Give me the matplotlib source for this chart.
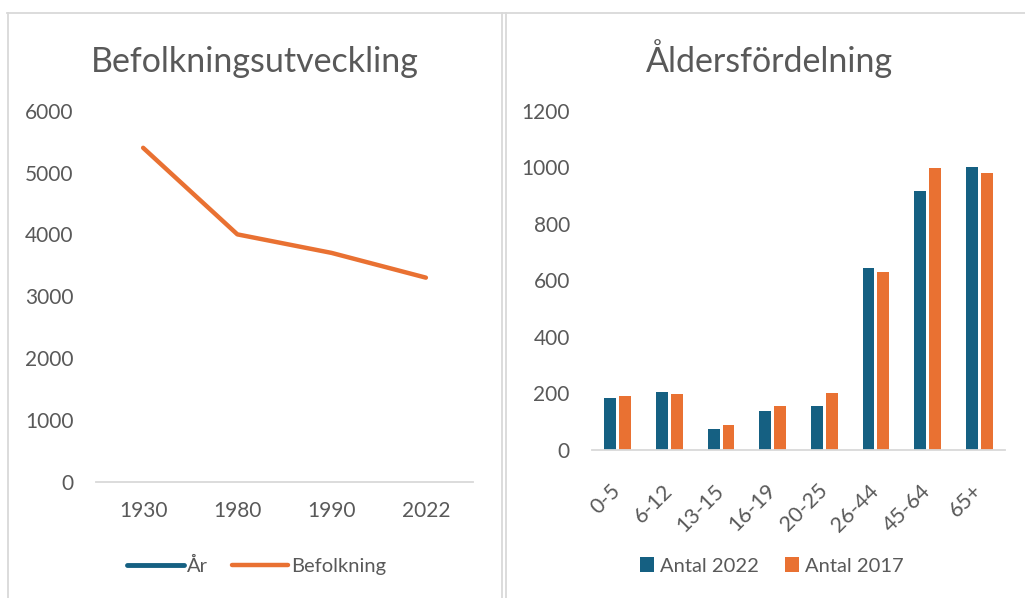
import matplotlib
matplotlib.use("Agg")
import matplotlib.pyplot as plt
from matplotlib.lines import Line2D
import numpy as np

plt.rcParams['font.family'] = ['Lato', 'DejaVu Sans']

# Data
years = ['1930', '1980', '1990', '2022']
befolkning = [5400, 4000, 3700, 3300]

age_groups = ['0-5', '6-12', '13-15', '16-19', '20-25', '26-44', '45-64', '65+']
antal_2022 = [184, 205, 73, 138, 155, 644, 916, 1000]
antal_2017 = [192, 198, 88, 155, 203, 628, 996, 979]

# Colors (Office theme)
blue = '#156082'
orange = '#E97132'
grey_text = '#595959'
grey_line = '#D9D9D9'

W, H = 1025, 598
fig = plt.figure(figsize=(W / 100, H / 100), dpi=100)

def fx(x):
    return x / W

def fy(y):
    return 1 - y / H

# panel borders
for x in [7.5, 502, 505.5]:
    fig.add_artist(Line2D([fx(x), fx(x)], [fy(12.5), 0], color=grey_line, lw=1.3))
fig.add_artist(Line2D([fx(7), 1], [fy(12.5), fy(12.5)], color=grey_line, lw=1.3))

# ---- left chart: line
ax1 = fig.add_axes([fx(96), fy(481.7), fx(473) - fx(96), fy(110.7) - fy(481.7)])
x1 = np.arange(len(years))
ax1.plot([], [], color=blue, lw=3.5, solid_capstyle='round', label='År')
ax1.plot(x1, befolkning, color=orange, lw=3.2, solid_capstyle='round',
         solid_joinstyle='round', label='Befolkning')
ax1.set_xlim(-0.5, len(years) - 0.5)
ax1.set_ylim(0, 6000)
ax1.set_yticks(np.arange(0, 6001, 1000))
ax1.set_xticks(x1)
ax1.set_xticklabels(years)
ax1.tick_params(axis='x', length=0, pad=14, labelsize=15, labelcolor=grey_text)
ax1.tick_params(axis='y', length=0, pad=16, labelsize=15, labelcolor=grey_text)
for s in ['top', 'right', 'left']:
    ax1.spines[s].set_visible(False)
ax1.spines['bottom'].set_color(grey_line)
ax1.spines['bottom'].set_linewidth(1.3)

fig.text(fx(255), fy(72), 'Befolkningsutveckling', ha='center', va='baseline',
         fontsize=24.5, color=grey_text)

h1, l1 = ax1.get_legend_handles_labels()
fig.legend(h1, l1, loc='center', bbox_to_anchor=(fx(257), fy(566)), ncol=2,
           frameon=False, fontsize=14.5, handlelength=2.8, handletextpad=0.15,
           columnspacing=1.2, labelcolor=grey_text)

# ---- right chart: bars
ax2 = fig.add_axes([fx(592), fy(450), fx(1005) - fx(592), fy(110.7) - fy(450)])
x2 = np.arange(len(age_groups))
bw = 0.23
ax2.bar(x2 - 0.145, antal_2022, bw, color=blue, label='Antal 2022')
ax2.bar(x2 + 0.145, antal_2017, bw, color=orange, label='Antal 2017')
ax2.set_xlim(-0.5, len(age_groups) - 0.5)
ax2.set_ylim(0, 1200)
ax2.set_yticks(np.arange(0, 1201, 200))
ax2.set_xticks(x2)
ax2.set_xticklabels(age_groups, rotation=45, ha='right', va='center',
                    rotation_mode='anchor')
ax2.tick_params(axis='x', length=0, pad=27, labelsize=15.5, labelcolor=grey_text)
ax2.tick_params(axis='y', length=0, pad=16, labelsize=15, labelcolor=grey_text)
for s in ['top', 'right', 'left']:
    ax2.spines[s].set_visible(False)
ax2.spines['bottom'].set_color(grey_line)
ax2.spines['bottom'].set_linewidth(1.3)

fig.text(fx(769), fy(72), 'Åldersfördelning', ha='center', va='baseline',
         fontsize=24.5, color=grey_text)

h2, l2 = ax2.get_legend_handles_labels()
fig.legend(h2, l2, loc='center', bbox_to_anchor=(fx(772), fy(566)), ncol=2,
           frameon=False, fontsize=14.5, handlelength=0.7, handleheight=0.7,
           handletextpad=0.3, columnspacing=1.3, labelcolor=grey_text)

fig.savefig('out.png', dpi=100)
